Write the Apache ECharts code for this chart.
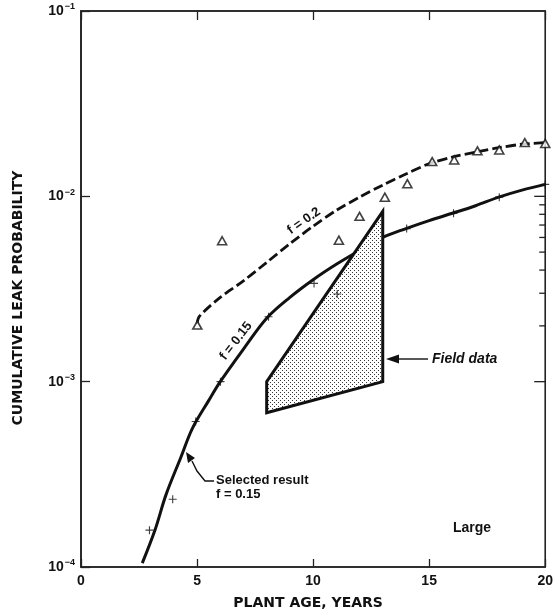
<!DOCTYPE html>
<html><head><meta charset="utf-8">
<script src="https://cdn.jsdelivr.net/npm/echarts@6/dist/echarts.min.js"></script>
<style>html,body{margin:0;padding:0;background:#fff}#chart{width:556px;height:615px}</style>
</head><body><div id="chart"></div>
<script>
// Cumulative leak probability versus plant age (large leaks)

// Calculated curve, f = 0.15 (solid)
const solidAge  = [2.64, 3.2, 3.66, 4.3, 4.8, 5.5, 6.0, 7.0, 8.0, 9.0, 10.0, 11.0, 12.0, 13.0, 14.0, 15.0, 16.0, 17.0, 18.0, 19.0, 20.0];
const solidProb = [1.05e-4, 1.6e-4, 2.45e-4, 3.9e-4, 5.6e-4, 7.9e-4, 1.0e-3, 1.5e-3, 2.2e-3, 2.85e-3, 3.55e-3, 4.3e-3, 5.1e-3, 6.0e-3, 6.7e-3, 7.4e-3, 8.1e-3, 8.9e-3, 9.9e-3, 1.08e-2, 1.16e-2];

// Calculated curve, f = 0.2 (dashed)
const dashAge  = [5.0, 5.1, 6, 7, 8, 9, 10, 11, 12, 13, 14, 15, 16, 17, 18, 19, 20];
const dashProb = [2.05e-3, 2.25e-3, 2.85e-3, 3.5e-3, 4.4e-3, 5.55e-3, 6.9e-3, 8.4e-3, 9.9e-3, 1.15e-2, 1.32e-2, 1.5e-2, 1.63e-2, 1.73e-2, 1.83e-2, 1.91e-2, 1.95e-2];

// Simulation points, f = 0.15 (+)
const plusAge  = [2.95, 3.95, 4.94, 6.01, 8.08, 10.04, 11.04, 14.03, 16.05, 18.02, 20.0];
const plusProb = [1.58e-4, 2.32e-4, 6.1e-4, 1.0e-3, 2.24e-3, 3.39e-3, 2.97e-3, 6.7e-3, 8.1e-3, 9.9e-3, 1.16e-2];

// Simulation points, f = 0.2 (triangles)
const triAge  = [5.01, 6.08, 11.11, 12.0, 13.09, 14.06, 15.13, 16.08, 17.08, 18.02, 19.12, 20.0];
const triProb = [2.02e-3, 5.76e-3, 5.8e-3, 7.8e-3, 9.9e-3, 1.17e-2, 1.54e-2, 1.57e-2, 1.76e-2, 1.78e-2, 1.95e-2, 1.93e-2];

// Field data envelope
const fieldAge  = [8.0, 13.0, 13.0, 8.0];
const fieldProb = [1.0e-3, 8.3e-3, 1.0e-3, 6.8e-4];

// Axis ticks
const xTicks = [0, 5, 10, 15, 20];
const yDecades = [1e-4, 1e-3, 1e-2, 1e-1];
const rightMajorTicks = [1e-3, 1e-2];
const rightMinorTicks = [2e-3, 3e-3, 4e-3, 5e-3, 6e-3, 7e-3, 8e-3, 9e-3];

const INK = '#111';
const FONT = 'Liberation Sans, Arial, sans-serif';

function stipple() {
  const c = document.createElement('canvas');
  c.width = 4; c.height = 4;
  const g = c.getContext('2d');
  g.fillStyle = '#fff'; g.fillRect(0, 0, 4, 4);
  g.fillStyle = '#333';
  g.fillRect(0, 0, 1, 1);
  g.fillRect(2, 2, 1, 1);
  return c;
}
const pattern = { image: stipple(), repeat: 'repeat' };

const zip = (a, b) => a.map((v, i) => [v, b[i]]);

const chart = echarts.init(document.getElementById('chart'), null, { renderer: 'canvas' });

const axisLine = { show: true, lineStyle: { color: '#222', width: 1.6 } };
const supLabel = v => {
  const e = Math.round(Math.log10(v));
  return '{b|10}{s|\u2212' + Math.abs(e) + '}';
};

// short inward ticks on the right edge, drawn through the value axes
const rightTicks = (values, len) => ({
  type: 'custom', z: 4, clip: false, silent: true,
  data: values.map(v => [xTicks[xTicks.length - 1], v]),
  renderItem: (params, api) => {
    const p = api.coord([api.value(0), api.value(1)]);
    return { type: 'line', shape: { x1: p[0] - len, y1: p[1], x2: p[0], y2: p[1] },
             style: { stroke: '#222', lineWidth: 1.3 } };
  }
});

chart.setOption({
  animation: false,
  backgroundColor: '#fff',
  grid: { left: 81, right: 7, top: 11, bottom: 48, show: true, borderColor: '#222', borderWidth: 1.6 },
  xAxis: [{
    type: 'value', min: xTicks[0], max: xTicks[xTicks.length - 1], interval: 5,
    position: 'bottom',
    axisLine, splitLine: { show: false },
    axisTick: { inside: true, length: 8, lineStyle: { color: '#222', width: 1.3 } },
    axisLabel: { color: INK, fontFamily: FONT, fontWeight: 'bold', fontSize: 14, margin: 7 },
    name: 'PLANT AGE, YEARS', nameLocation: 'middle', nameGap: 29,
    nameTextStyle: { color: INK, fontFamily: 'DejaVu Sans', fontWeight: 'bold', fontSize: 14, padding: [0, 10, 0, 0] }
  }, {
    type: 'value', min: xTicks[0], max: xTicks[xTicks.length - 1], interval: 5,
    position: 'top',
    axisLine, splitLine: { show: false },
    axisTick: { inside: true, length: 9, lineStyle: { color: '#222', width: 1.3 } },
    axisLabel: { show: false }
  }],
  yAxis: [{
    type: 'log', logBase: 10, min: yDecades[0], max: yDecades[yDecades.length - 1],
    position: 'left',
    axisLine, splitLine: { show: false }, minorTick: { show: false },
    axisTick: { inside: true, length: 9, lineStyle: { color: '#222', width: 1.3 } },
    axisLabel: {
      margin: 6, formatter: supLabel,
      rich: {
        b: { color: INK, fontFamily: FONT, fontWeight: 'bold', fontSize: 14 },
        s: { color: INK, fontFamily: FONT, fontWeight: 'bold', fontSize: 9, padding: [0, 0, 8, 1] }
      }
    },
    name: 'CUMULATIVE LEAK PROBABILITY', nameLocation: 'middle', nameGap: 56,
    nameTextStyle: { color: INK, fontFamily: 'DejaVu Sans', fontWeight: 'bold', fontSize: 14, padding: [0, 18, 0, 0] }
  }],
  series: [
    {
      name: 'f = 0.15', type: 'line', data: zip(solidAge, solidProb),
      smooth: 0.35, showSymbol: false, z: 2,
      lineStyle: { color: INK, width: 3 }
    },
    {
      name: 'f = 0.2', type: 'line', data: zip(dashAge, dashProb),
      smooth: 0.3, showSymbol: false, z: 2,
      lineStyle: { color: INK, width: 2.8, type: [10, 4] }
    },
    {
      name: 'Field data', type: 'custom', z: 3,
      data: [[fieldAge[0], fieldProb[0]]],
      renderItem: (params, api) => ({
        type: 'polygon',
        shape: { points: fieldAge.map((a, i) => api.coord([a, fieldProb[i]])) },
        style: { fill: pattern, stroke: INK, lineWidth: 3, lineJoin: 'miter' }
      })
    },
    rightTicks(rightMajorTicks, 11),
    rightTicks(rightMinorTicks, 6),
    {
      name: 'sim 0.15', type: 'scatter', data: zip(plusAge, plusProb), z: 5,
      symbol: 'path://M0,4.3H10V5.7H0ZM4.3,0H5.7V10H4.3Z', symbolSize: 8,
      itemStyle: { color: INK }
    },
    {
      name: 'sim 0.2', type: 'scatter', data: zip(triAge, triProb), z: 5,
      symbol: 'triangle', symbolSize: [9, 8],
      itemStyle: { color: '#fff', borderColor: INK, borderWidth: 1.6 }
    }
  ],
  graphic: [
    { type: 'text', x: 304, y: 221, rotation: 35 * Math.PI / 180, z: 50,
      style: { text: 'f = 0.2', font: 'bold 13px ' + FONT, fill: INK, align: 'center', verticalAlign: 'middle',
               backgroundColor: '#fff', padding: [0, 2] } },
    { type: 'text', x: 236, y: 341, rotation: 52 * Math.PI / 180, z: 50,
      style: { text: 'f = 0.15', font: 'bold 13px ' + FONT, fill: INK, align: 'center', verticalAlign: 'middle',
               backgroundColor: '#fff', padding: [0, 2] } },
    // Field data callout
    { type: 'line', z: 50, shape: { x1: 428, y1: 359, x2: 396, y2: 359 }, style: { stroke: INK, lineWidth: 1.4 } },
    { type: 'polygon', z: 50, shape: { points: [[386, 359], [399, 354.5], [399, 363.5]] }, style: { fill: INK } },
    { type: 'text', x: 432, y: 359, z: 50,
      style: { text: 'Field data', font: 'italic bold 14px ' + FONT, fill: INK, align: 'left', verticalAlign: 'middle' } },
    // Selected result callout
    { type: 'polyline', z: 50, shape: { points: [[214, 481], [205, 481], [197, 471], [192, 461]] },
      style: { stroke: INK, lineWidth: 1.4, fill: null } },
    { type: 'polygon', z: 50, shape: { points: [[186, 452], [195, 458], [188, 463]] }, style: { fill: INK } },
    { type: 'text', x: 216, y: 480, z: 50,
      style: { text: 'Selected result', font: 'bold 13px ' + FONT, fill: INK, align: 'left', verticalAlign: 'middle' } },
    { type: 'text', x: 216, y: 494, z: 50,
      style: { text: 'f = 0.15', font: 'bold 13px ' + FONT, fill: INK, align: 'left', verticalAlign: 'middle' } },
    { type: 'text', x: 453, y: 528, z: 50,
      style: { text: 'Large', font: 'bold 14px ' + FONT, fill: INK, align: 'left', verticalAlign: 'middle' } }
  ]
});
</script>
</body></html>
